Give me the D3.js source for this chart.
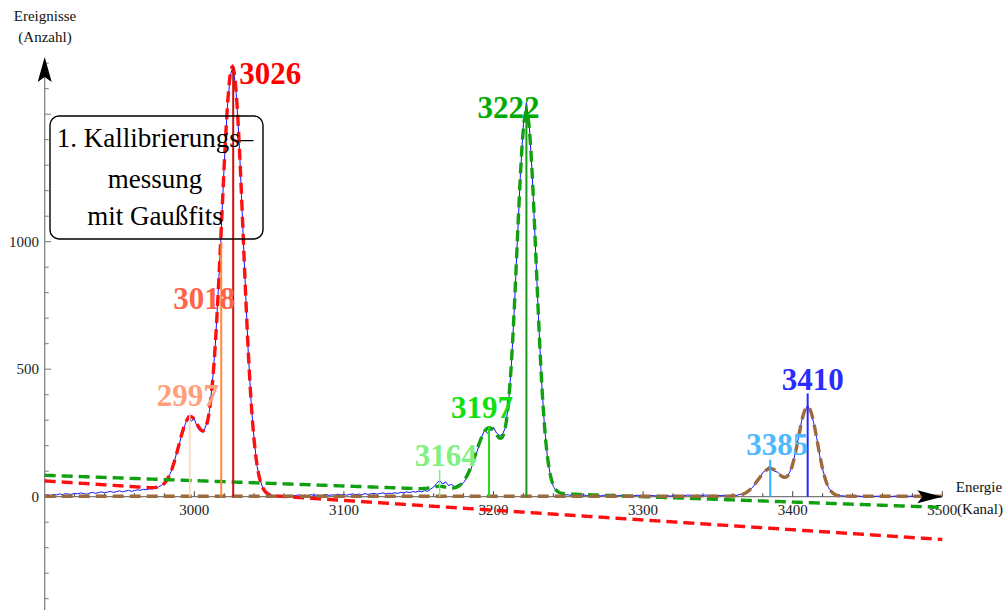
<!DOCTYPE html>
<html>
<head>
<meta charset="utf-8">
<script src="https://cdn.jsdelivr.net/npm/d3@7"></script>
<style>
  html, body { margin: 0; padding: 0; background: #fff; }
  svg text { font-family: "Liberation Serif", "Times New Roman", serif; }
</style>
</head>
<body>
<svg id="chart" width="1007" height="610"></svg>
<script>
// Measured spectrum: counts per channel, channels 2900..3500 in steps of 2
const channelStart = 2900;
const channelStep = 2;
const counts = [
  // 2900 - 2974
  5, 8, 4, 9, 7, 11, 8, 12, 10, 9, 13, 11, 15, 12, 10, 14, 17, 13, 16, 19,
  15, 18, 21, 17, 20, 23, 19, 22, 25, 21, 24, 27, 25, 29, 27, 31, 30, 34,
  // 2976 - 3054
  38, 44, 55, 70, 92, 122, 168, 205, 256, 284, 318, 296, 306, 272, 258, 252, 282, 330, 440, 590,
  805, 1040, 1305, 1520, 1650, 1690, 1580, 1390, 1115, 842, 575, 368, 224, 118, 66, 30, 18, 10, 6, 4,
  // 3056 - 3148
  3, 5, 2, 4, 6, 3, 5, 7, 4, 6, 3, 8, 5, 7, 4, 6, 9, 5, 7, 6,
  10, 7, 8, 6, 9, 11, 8, 10, 7, 12, 9, 11, 13, 10, 12, 15, 11, 14, 12, 16,
  13, 17, 15, 19, 16, 20, 18,
  // 3150 - 3248
  22, 19, 24, 21, 30, 38, 52, 64, 50, 58, 44, 48, 40, 45, 48, 55, 72, 95, 125, 160,
  195, 232, 262, 248, 262, 272, 250, 240, 244, 272, 362, 520, 748, 1010, 1265, 1460, 1545, 1450, 1250, 985,
  712, 468, 282, 158, 82, 40, 22, 14, 10, 8,
  // 3250 - 3348
  7, 5, 8, 6, 4, 7, 5, 3, 6, 4, 5, 3, 6, 4, 2, 5, 3, 4, 6, 3,
  5, 2, 4, 6, 3, 5, 4, 2, 5, 3, 6, 4, 3, 5, 2, 4, 6, 3, 5, 4,
  7, 5, 3, 6, 4, 5, 7, 4, 6, 5,
  // 3350 - 3448
  5, 4, 6, 3, 5, 6, 4, 8, 10, 14, 22, 30, 42, 62, 72, 95, 104, 118, 110, 100,
  96, 84, 80, 76, 96, 126, 180, 235, 298, 335, 358, 332, 290, 232, 162, 108, 66, 35, 18, 10,
  6, 4, 3, 2, 3, 1, 2, 3, 1, 2,
  // 3450 - 3500
  2, 3, 1, 2, 2, 1, 3, 2, 1, 2, 3, 1, 2, 1, 2, 2, 1, 3, 1, 2, 1, 2, 1, 2, 1, 1
];

// Gaussian fit parameters; background = [value at channel 2900, slope per channel]
const redCentres = [2997, 3018, 3026];
const redHeights = [281, 230, 1528];
const redSigmas = [7.5, 8.0, 7.0];
const redBackground = [62, -0.383];

const greenCentres = [3164, 3197, 3222];
const greenHeights = [12, 248, 1490];
const greenSigmas = [5.0, 8.6, 6.5];
const greenBackground = [84, -0.21];

const brownCentres = [3385, 3410];
const brownHeights = [108, 350];
const brownSigmas = [8.0, 6.5];
const brownBackground = [2, 0];

// Peak markers
const peakLabels = ["2997", "3018", "3026", "3164", "3197", "3222", "3385", "3410"];
const peakChannels = [2997, 3018, 3026, 3164, 3197, 3222, 3385, 3410];
const peakMarkerTops = [328, 1000, 1685, 105, 275, 1535, 145, 405];

// Axis ticks
const xTickLabels = [3000, 3100, 3200, 3300, 3400, 3500];
const yTickLabels = [0, 500, 1000];

// ---- styles & layout ----
const labelColours = ["#ffa07a", "#ff6347", "#ff0000", "#80f080", "#10e010", "#00aa00", "#4db8ff", "#2b2bff"];
const markerColours = ["#ffd2b4", "#ff8a3a", "#cc1010", "#7cf07c", "#22dd22", "#1a9a1a", "#30b0ff", "#2626ff"];
const markerWidths = [1.5, 2, 2, 1.5, 2, 2, 2, 2];
// label text centre / baseline offsets (px) from the top of each marker
const labelOffsets = [[-2, -7], [-17, 67], [37, 17], [6, -4], [-7, -9], [-18, 13], [7, -5], [5, -3]];

const svg = d3.select("#chart");
const x = d3.scaleLinear().domain([2900, 3500]).range([44.7, 942.3]);
const y = d3.scaleLinear().domain([-450, 1725]).range([611.45, 56.8]);

const gauss = (ch, c, a, s) => a * Math.exp(-((ch - c) * (ch - c)) / (2 * s * s));
function fitValue(ch, centres, heights, sigmas, bg) {
  let v = bg[0] + bg[1] * (ch - 2900);
  centres.forEach((c, i) => { v += gauss(ch, c, heights[i], sigmas[i]); });
  return v;
}

// ---- axes ----
const axisColour = "#7a7a7a";
const axes = svg.append("g");
// x axis line
axes.append("line")
  .attr("x1", x(2900)).attr("x2", x(3500) - 10)
  .attr("y1", y(0)).attr("y2", y(0))
  .attr("stroke", axisColour).attr("stroke-width", 1.2);
// y axis line
axes.append("line")
  .attr("x1", x(2900)).attr("x2", x(2900))
  .attr("y1", y(-450)).attr("y2", y(1725) + 10)
  .attr("stroke", axisColour).attr("stroke-width", 1.2);

// x ticks
d3.range(2920, 3501, 20).forEach(t => {
  const major = t % 100 === 0;
  axes.append("line")
    .attr("x1", x(t)).attr("x2", x(t))
    .attr("y1", y(0)).attr("y2", y(0) - (major ? 5.5 : 3.5))
    .attr("stroke", "#444").attr("stroke-width", 1);
});
xTickLabels.forEach(t => {
  axes.append("text")
    .attr("x", x(t)).attr("y", 515)
    .attr("text-anchor", "middle")
    .attr("font-size", 15).attr("fill", "#222")
    .text(t);
});

// y ticks
d3.range(-400, 1701, 100).forEach(t => {
  const major = t % 500 === 0;
  axes.append("line")
    .attr("x1", x(2900)).attr("x2", x(2900) + (major ? 6.5 : 4))
    .attr("y1", y(t)).attr("y2", y(t))
    .attr("stroke", axisColour).attr("stroke-width", 1);
});
yTickLabels.forEach(t => {
  axes.append("text")
    .attr("x", 39).attr("y", y(t) + 5)
    .attr("text-anchor", "end")
    .attr("font-size", 15).attr("fill", "#222")
    .text(t);
});

// axis titles
const titleStyle = sel => sel.attr("font-size", 15).attr("fill", "#111").attr("text-anchor", "middle");
svg.append("text").attr("x", 45).attr("y", 21).call(titleStyle).text("Ereignisse");
svg.append("text").attr("x", 45).attr("y", 42).call(titleStyle).text("(Anzahl)");
svg.append("text").attr("x", 979).attr("y", 492).call(titleStyle).text("Energie");
svg.append("text").attr("x", 980).attr("y", 514).call(titleStyle).text("(Kanal)");

// ---- measured spectrum ----
const dataLine = d3.line()
  .x((d, i) => x(channelStart + i * channelStep))
  .y(d => y(d));
svg.append("path")
  .datum(counts)
  .attr("d", dataLine)
  .attr("fill", "none")
  .attr("stroke", "#1414ff")
  .attr("stroke-width", 1);

// ---- fitted curves ----
const grid = d3.range(2900, 3500.001, 0.5);
const fitLine = d3.line().x(d => x(d[0])).y(d => y(d[1]));
function drawFit(centres, heights, sigmas, bg, colour) {
  const pts = grid.map(ch => [ch, fitValue(ch, centres, heights, sigmas, bg)]);
  svg.append("path")
    .datum(pts)
    .attr("d", fitLine)
    .attr("fill", "none")
    .attr("stroke", colour)
    .attr("stroke-width", 3.4)
    .attr("stroke-dasharray", "11,6");
}
drawFit(redCentres, redHeights, redSigmas, redBackground, "#ff1010");
drawFit(greenCentres, greenHeights, greenSigmas, greenBackground, "#10a010");
drawFit(brownCentres, brownHeights, brownSigmas, brownBackground, "#9c6a3c");

// ---- peak markers and labels ----
peakChannels.forEach((ch, i) => {
  svg.append("line")
    .attr("x1", x(ch)).attr("x2", x(ch))
    .attr("y1", y(0)).attr("y2", y(peakMarkerTops[i]))
    .attr("stroke", markerColours[i])
    .attr("stroke-width", markerWidths[i]);
});
peakChannels.forEach((ch, i) => {
  svg.append("text")
    .attr("x", x(ch) + labelOffsets[i][0])
    .attr("y", y(peakMarkerTops[i]) + labelOffsets[i][1])
    .attr("text-anchor", "middle")
    .attr("font-size", 31)
    .attr("font-weight", "bold")
    .attr("fill", labelColours[i])
    .text(peakLabels[i]);
});

// ---- axis arrowheads ----
const ax = x(2900), tipY = 57;
svg.append("path")
  .attr("d", `M${ax},${tipY} L${ax + 7},${tipY + 25} L${ax},${tipY + 20} L${ax - 7},${tipY + 25} Z`)
  .attr("fill", "#000");
const tipX = x(3500), ay = y(0);
svg.append("path")
  .attr("d", `M${tipX},${ay} L${tipX - 25},${ay - 6.5} L${tipX - 20},${ay} L${tipX - 25},${ay + 6.5} Z`)
  .attr("fill", "#000");

// ---- annotation box ----
svg.append("rect")
  .attr("x", 50).attr("y", 116)
  .attr("width", 213).attr("height", 123)
  .attr("rx", 9).attr("ry", 9)
  .attr("fill", "none")
  .attr("stroke", "#000")
  .attr("stroke-width", 1.4);
const boxLines = ["1. Kallibrierungs–", "messung", "mit Gaußfits"];
const boxBaselines = [147, 188, 225];
boxLines.forEach((t, i) => {
  svg.append("text")
    .attr("x", 155).attr("y", boxBaselines[i])
    .attr("text-anchor", "middle")
    .attr("font-size", 27)
    .attr("fill", "#000")
    .text(t);
});
</script>
</body>
</html>
